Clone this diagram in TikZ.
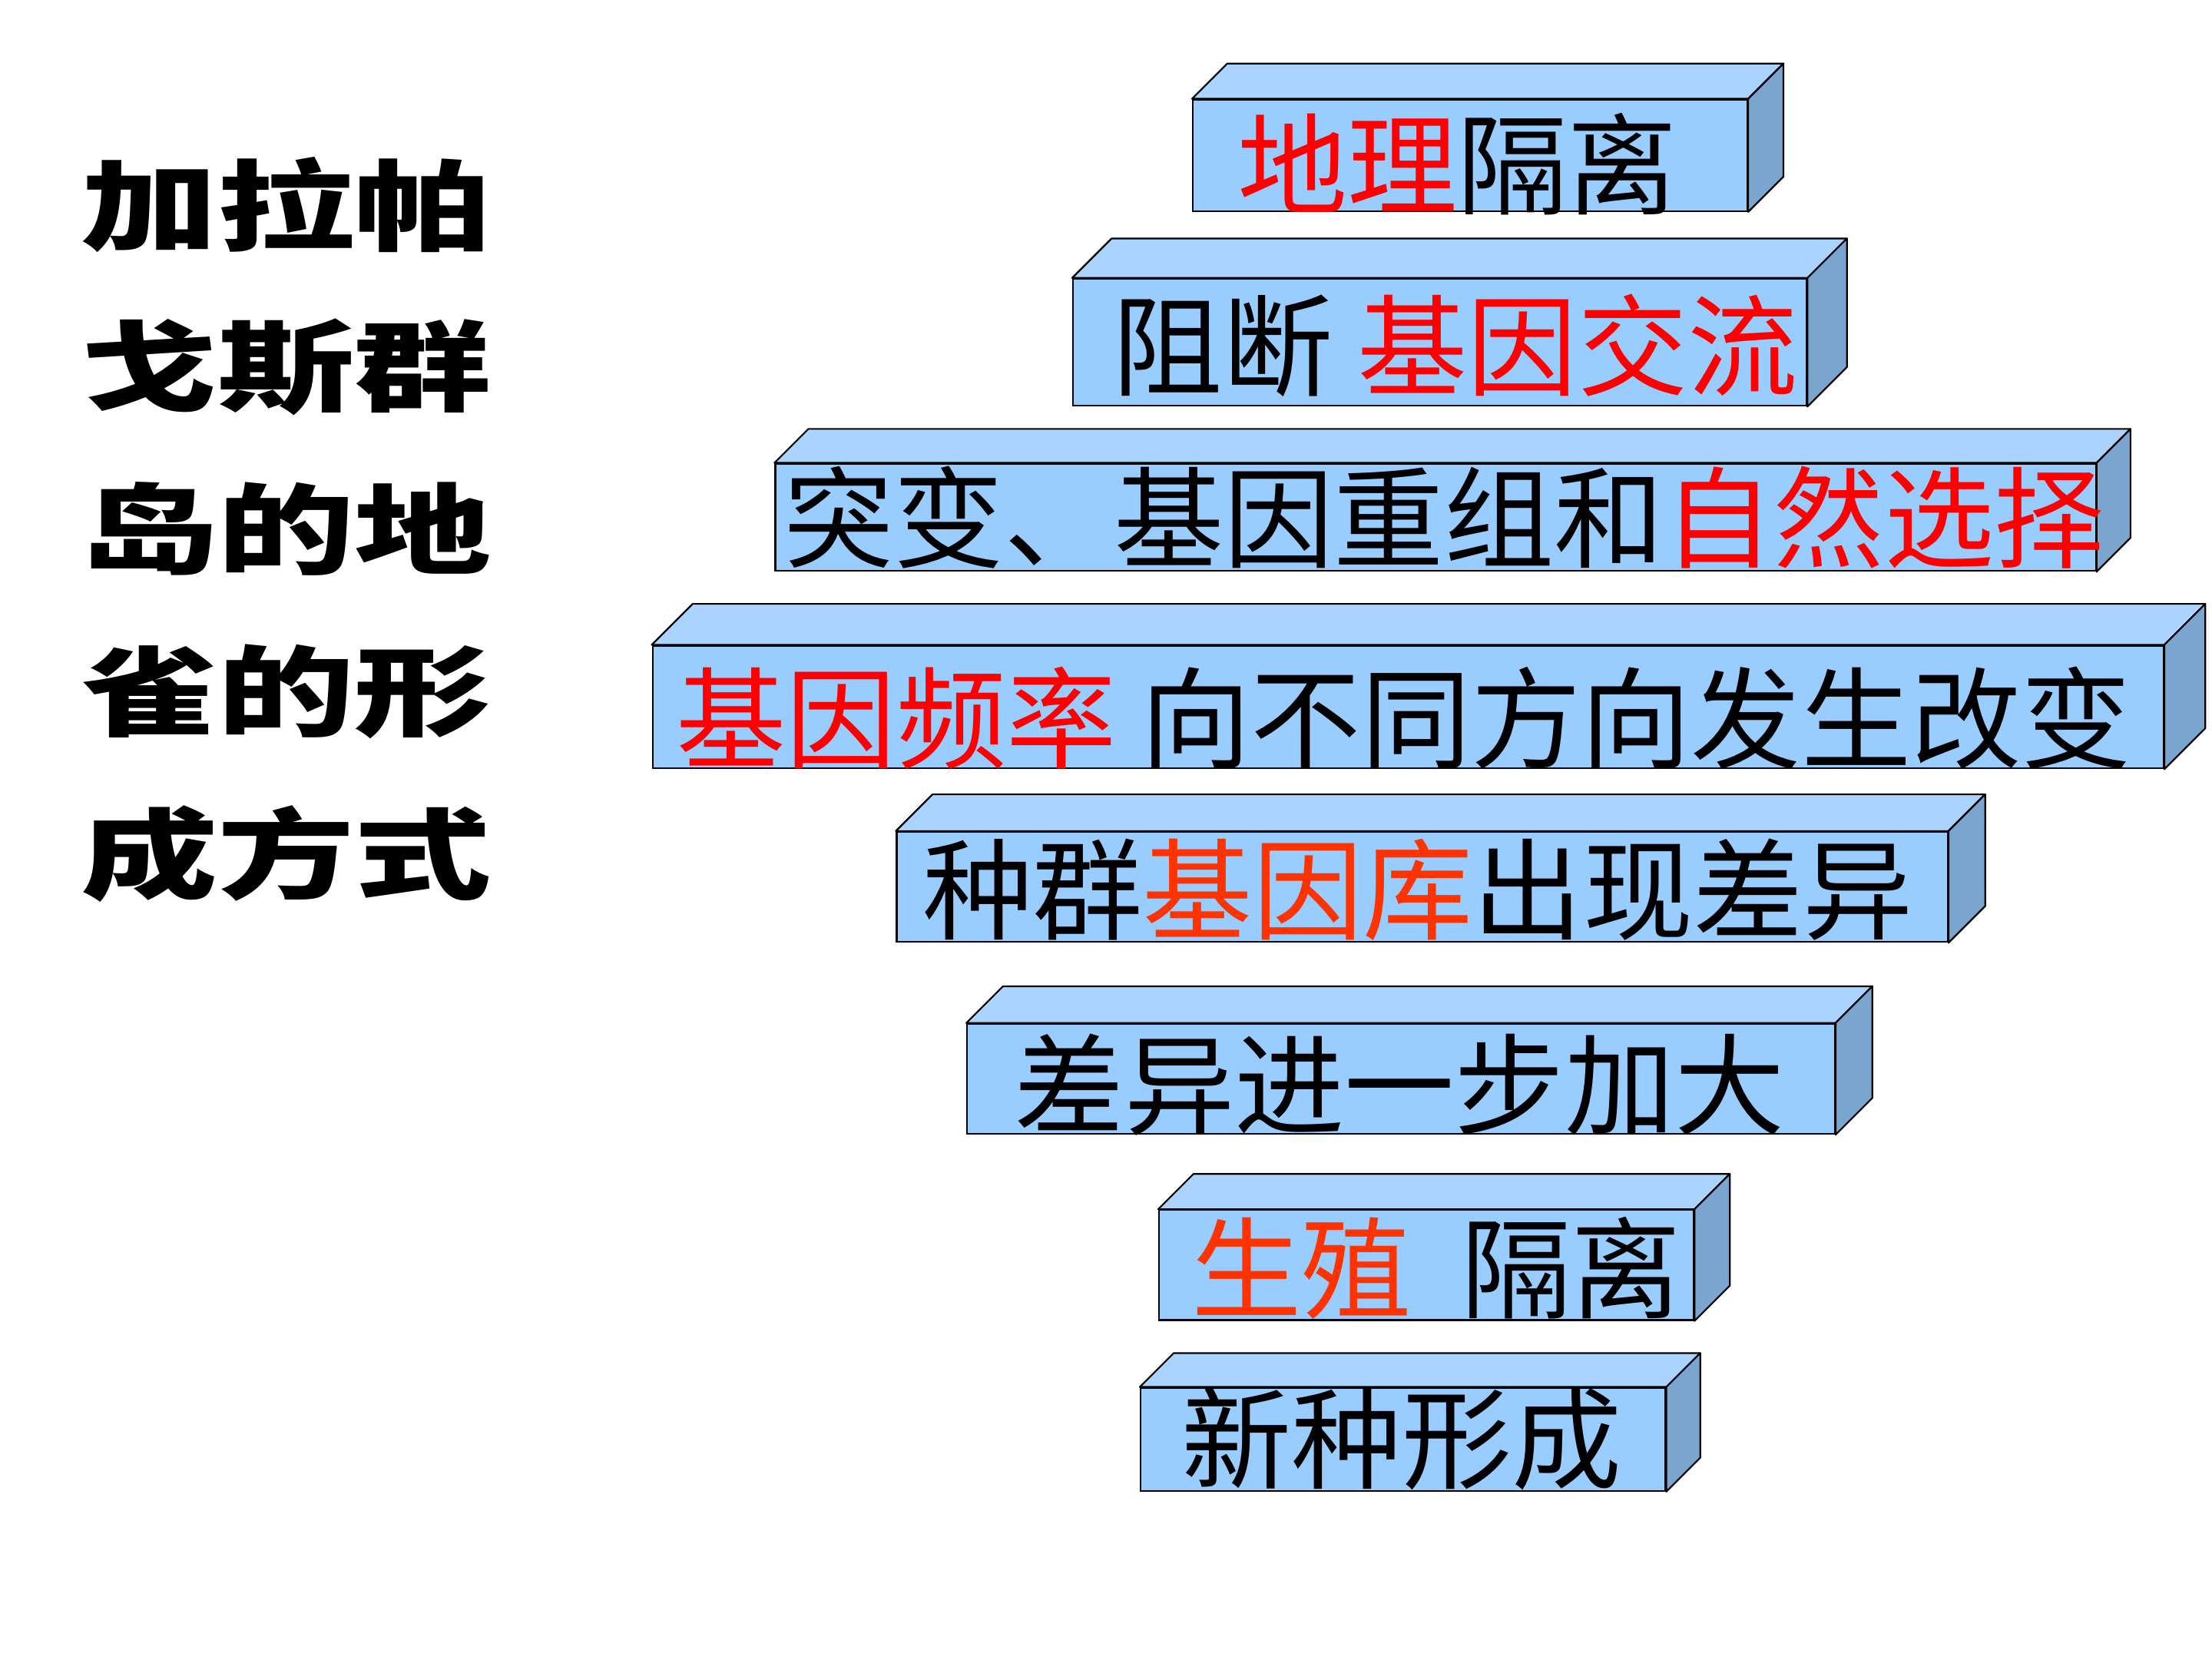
\documentclass[tikz,border=0pt]{standalone}
\usepackage{graphicx}
\usepackage{fontspec}
\newfontfamily\cjk{Noto Sans CJK SC}
\definecolor{frontc}{HTML}{99CCFF}
\definecolor{topc}{HTML}{AAD4FF}
\definecolor{sidec}{HTML}{7AA5CE}
\definecolor{redA}{HTML}{FF0000}
\definecolor{redB}{HTML}{FF3300}
\tikzset{
  front/.style={draw=black, line width=1.2pt, fill=frontc, inner sep=0pt, anchor=north west},
  topface/.style={draw=black, line width=1.2pt, fill=topc, line join=round},
  sideface/.style={draw=black, line width=1.2pt, fill=sidec, line join=round},
  boxtext/.style={inner sep=0pt, font=\cjk\fontsize{78}{84}\selectfont},
  lefttext/.style={inner sep=0pt, font=\cjk\bfseries\fontsize{97}{100}\selectfont}
}
\newcommand{\squash}[1]{\scalebox{1}[0.72]{#1}}
% #1 name, #2 x, #3 y, #4 width, #5 height, #6 depth
\newcommand{\slab}[6]{%
  \node[front, minimum width=#4pt, minimum height=#5pt] (#1) at (#2,#3) {};
  \draw[topface] (#1.north west) -- ([shift={(#6,-#6)}]#1.north west) -- ([shift={(#6,-#6)}]#1.north east) -- (#1.north east) -- cycle;
  \draw[sideface] (#1.north east) -- ([shift={(#6,-#6)}]#1.north east) -- ([shift={(#6,-#6)}]#1.south east) -- (#1.south east) -- cycle;
}
\begin{document}
\begin{tikzpicture}[x=1pt,y=-1pt]
\useasboundingbox[fill=white] (0,0) rectangle (1568,1176);
% left title
\node[lefttext] (l1) at (203,145) {\squash{加拉帕}};
\node[lefttext] (l2) at (203,260) {\squash{戈斯群}};
\node[lefttext] (l3) at (203,375) {\squash{岛的地}};
\node[lefttext] (l4) at (203,490) {\squash{雀的形}};
\node[lefttext] (l5) at (203,605) {\squash{成方式}};
% slabs
\slab{b1}{845}{70}{393}{79}{25}
\slab{b2}{760}{197}{520}{90}{28}
\slab{b3}{549}{328}{936}{76}{24}
\slab{b4}{462}{457}{1071}{87}{29}
\slab{b5}{635}{589}{745}{78}{26}
\slab{b6}{685}{725}{615}{78}{26}
\slab{b7}{821}{857}{379}{78}{25}
\slab{b8}{808}{983}{372}{73}{24}
% texts
\node[boxtext] (t1) at ([shift={(-9,6)}]b1.center) {\textcolor{redA}{地理}隔离};
\node[boxtext] (t2) at ([shift={(11,2)}]b2.center) {阻断 \textcolor{redA}{基因交流}};
\node[boxtext] (t3) at ([shift={(6,0)}]b3.center) {突变、基因重组和\textcolor{redA}{自然选择}};
\node[boxtext] (t4) at ([shift={(-3,8)}]b4.center) {\textcolor{redA}{基因频率} 向不同方向发生改变};
\node[boxtext] (t5) at ([shift={(-3,2)}]b5.center) {种群\textcolor{redB}{基因库}出现差异};
\node[boxtext] (t6) at ([shift={(-1,4)}]b6.center) {差异进一步加大};
\node[boxtext] (t7) at ([shift={(7,2)}]b7.center) {\textcolor{redB}{生殖}\hspace{0.45em}隔离};
\node[boxtext] (t8) at ([shift={(-1,0)}]b8.center) {新种形成};
\end{tikzpicture}
\end{document}
